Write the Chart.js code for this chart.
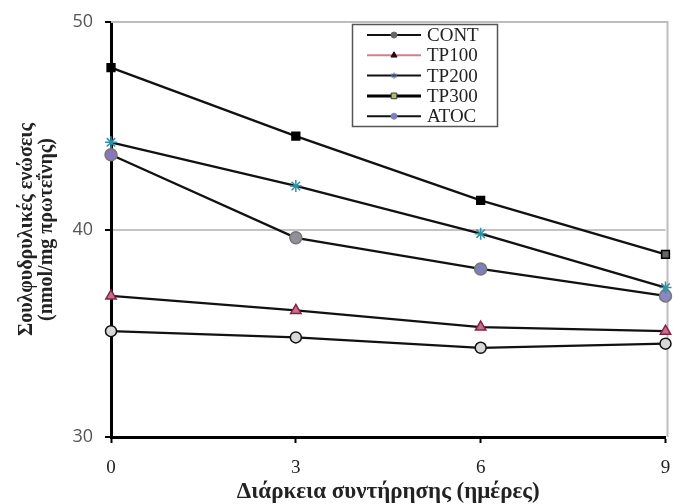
<!DOCTYPE html>
<html>
<head>
<meta charset="utf-8">
<script src="https://cdn.jsdelivr.net/npm/chart.js@4"></script>
<style>
html,body{margin:0;padding:0;background:#fff;}
#wrap{width:673px;height:504px;}
</style>
</head>
<body>
<div id="wrap"><canvas id="c" width="673" height="504"></canvas></div>
<script>
// Data
const days = [0, 3, 6, 9];
const seriesNames = ['CONT', 'TP100', 'TP200', 'TP300', 'ATOC'];
const cont  = [35.1, 34.8, 34.3, 34.5];
const tp100 = [36.8, 36.1, 35.3, 35.1];
const tp200 = [44.2, 42.1, 39.8, 37.2];
const tp300 = [47.8, 44.5, 41.4, 38.8];
const atoc  = [43.6, 39.6, 38.1, 36.8];
const yTicks = [30, 40, 50];
const xTicks = [0, 3, 6, 9];
const xTitle = 'Διάρκεια συντήρησης (ημέρες)';
const yTitle = ['Σουλφυδρυλικές ενώσεις', '(nmol/mg πρωτεΐνης)'];

function pts(arr){ return days.map((d,i)=>({x:d, y:arr[i]})); }

const styles = [
  {style:'circle',   r:5.5, bg:'#d8d8d8', bd:'#111', legLine:'#111', legBg:'#666', legR:3},
  {style:'triangle', r:6,   bg:'#c07090', bd:'#8a2040', legLine:'#d08090', legBg:'#300010', legR:3.5},
  {style:'star',     r:6,   bg:'#40a0b8', bd:'#3090a8', legLine:'#111', legBg:'#3050a0', legR:3},
  {style:'rect',     r:5.5, bg:['#000','#000','#000','#666'], bd:'#000', legLine:'#000', legBg:'#b0c070', legR:4},
  {style:'circle',   r:6,   bg:['#8878b8','#909098','#8080b8','#8a88c0'], bd:'#777', legLine:'#111', legBg:'#8080c0', legR:3}
];
const allData = [cont, tp100, tp200, tp300, atoc];

const datasets = allData.map((arr, i) => ({
  label: seriesNames[i],
  data: pts(arr),
  borderColor: '#111',
  borderWidth: 2.3,
  pointStyle: styles[i].style,
  pointRadius: styles[i].r,
  pointBackgroundColor: styles[i].bg,
  pointBorderColor: styles[i].bd,
  pointBorderWidth: 1.5,
  tension: 0,
  clip: false
}));

const framePlugin = {
  id: 'frame',
  beforeDatasetsDraw(chart){
    const {ctx, chartArea:a} = chart;
    ctx.save();
    ctx.strokeStyle = '#bdbdbd';
    ctx.lineWidth = 2;
    ctx.beginPath();
    ctx.moveTo(a.left, a.top);
    ctx.lineTo(a.right + 2, a.top);
    ctx.lineTo(a.right + 2, a.bottom);
    ctx.stroke();
    ctx.restore();
  }
};

const legendPlugin = {
  id: 'boxLegend',
  afterDraw(chart){
    const ctx = chart.ctx;
    const bx = 352, by = 24, bw = 145, bh = 102;
    ctx.save();
    ctx.fillStyle = '#fff';
    ctx.fillRect(bx, by, bw, bh);
    ctx.strokeStyle = '#555';
    ctx.lineWidth = 1.5;
    ctx.strokeRect(bx + 0.5, by + 0.5, bw, bh);
    chart.data.datasets.forEach((ds, i) => {
      const y = by + 11 + i * 20.3;
      const s = styles[i];
      ctx.strokeStyle = s.legLine;
      ctx.lineWidth = i === 3 ? 3 : 2;
      ctx.beginPath();
      ctx.moveTo(367, y);
      ctx.lineTo(421, y);
      ctx.stroke();
      ctx.fillStyle = s.legBg;
      ctx.strokeStyle = i === 3 ? '#333' : s.legBg;
      ctx.lineWidth = 1;
      Chart.helpers.drawPoint(ctx, {pointStyle: s.style, radius: s.legR, rotation: 0, borderWidth: 1}, 394, y);
      ctx.fillStyle = '#222';
      ctx.font = '19px "Liberation Serif", "Times New Roman", serif';
      ctx.textBaseline = 'middle';
      ctx.textAlign = 'left';
      ctx.fillText(ds.label, 427, y + 1);
    });
    ctx.restore();
  }
};

new Chart(document.getElementById('c'), {
  type: 'line',
  data: { datasets },
  options: {
    responsive: false,
    animation: false,
    layout: { padding: { top: 22, right: 3, left: 0, bottom: 0 } },
    plugins: { legend: { display: false }, tooltip: { enabled: false } },
    scales: {
      x: {
        type: 'linear',
        min: 0, max: 9,
        afterBuildTicks(scale){ scale.ticks = xTicks.map(v => ({value: v})); },
        afterFit(scale){ scale.height = 67; scale.paddingRight = 0; scale.paddingLeft = 0; },
        ticks: {
          color: '#222',
          font: { family: '"Liberation Serif", "Times New Roman", serif', size: 19 },
          padding: 14
        },
        grid: { drawOnChartArea: false, tickLength: 6, tickColor: '#000', tickWidth: 2 },
        border: { color: '#000', width: 3 },
        title: {
          display: true, text: xTitle, color: '#222',
          font: { family: '"Liberation Serif", "Times New Roman", serif', size: 23, weight: 'bold', lineHeight: 1.0 },
          padding: { top: 0, bottom: 0 }
        }
      },
      y: {
        type: 'linear',
        min: 30, max: 50,
        afterBuildTicks(scale){ scale.ticks = yTicks.map(v => ({value: v})); },
        afterFit(scale){ scale.width = 111; scale.paddingTop = 0; scale.paddingBottom = 0; },
        ticks: {
          color: '#555',
          font: { family: '"Open Sans", "Liberation Sans", sans-serif', size: 18 },
          padding: 12
        },
        grid: {
          color: (c) => c.tick && c.tick.value === 40 ? '#c4c4c4' : 'rgba(0,0,0,0)',
          lineWidth: 2, tickLength: 6, tickColor: '#000', tickWidth: 2
        },
        border: { color: '#000', width: 3 },
        title: {
          display: true, text: yTitle, color: '#222',
          font: { family: '"Liberation Serif", "Times New Roman", serif', size: 20, weight: 'bold', lineHeight: 1.0 },
          padding: { top: 17, bottom: 0 }
        }
      }
    }
  },
  plugins: [framePlugin, legendPlugin]
});
</script>
</body>
</html>
